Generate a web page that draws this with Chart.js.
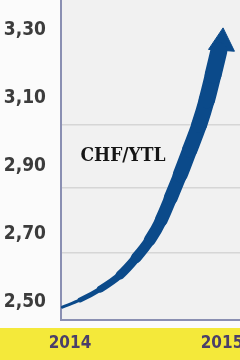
<!DOCTYPE html>
<html>
<head>
<meta charset="utf-8">
<script src="https://cdn.jsdelivr.net/npm/chart.js@4/dist/chart.umd.min.js"></script>
<style>
  html, body { margin: 0; padding: 0; background: #ffffff; }
  #wrap { width: 240px; height: 360px; }
</style>
</head>
<body>
<div id="wrap"><canvas id="c" width="240" height="360"></canvas></div>
<script>
// ---- data ----
// months after Jan 2014 (0 = 2014, 12 = 2015)
const months = [-0.6, 0.8, 2.4, 3.95, 5.2, 6.3, 7.2, 7.95, 8.7, 9.45, 10.2, 10.8, 11.3, 11.75];
const rates  = [2.485, 2.506, 2.538, 2.579, 2.629, 2.682, 2.741, 2.806, 2.874, 2.947, 3.021, 3.094, 3.168, 3.238];
const arrowTip = { x: 12.0, y: 3.262 };
const xTickValues = [0, 12];
const xTickLabels = ['2014', '2015'];
const yTickValues = [2.5, 2.7, 2.9, 3.1, 3.3];
const yTickLabels = ['2,50', '2,70', '2,90', '3,10', '3,30'];
const pairLabel = 'CHF/YTL';
const gridValues = [2.644, 2.835, 3.021];

// ---- styles ----
const strokeWidths = [1.5, 3, 5, 7, 9, 10.5, 12, 13, 14, 15, 15.5, 16, 16.5, 17];
const BLUE = '#0b4a8a';

const points = months.map((m, i) => ({ x: m, y: rates[i] }));

function noPad(s) { s.paddingTop = 0; s.paddingBottom = 0; s.paddingLeft = 0; s.paddingRight = 0; }

const bgPlugin = {
  id: 'bg',
  beforeDraw(chart) {
    const { ctx, chartArea: a, width, height } = chart;
    ctx.save();
    ctx.fillStyle = '#fbfbfb';
    ctx.fillRect(0, 0, width, height);
    ctx.fillStyle = '#f1f1f1';
    ctx.fillRect(a.left, a.top, a.right - a.left, a.bottom - a.top);
    ctx.fillStyle = '#f4e93a';
    ctx.fillRect(0, a.bottom + 8, width, height - a.bottom - 8);
    ctx.restore();
  }
};

const textPlugin = {
  id: 'pairText',
  afterDatasetsDraw(chart) {
    const { ctx, chartArea: a } = chart;
    ctx.save();
    ctx.font = 'bold 19px "DejaVu Serif Condensed", "DejaVu Serif", serif';
    ctx.fillStyle = '#151515';
    ctx.textAlign = 'center';
    ctx.textBaseline = 'middle';
    ctx.fillText(pairLabel, a.left + 62, a.top + 156);
    ctx.restore();
  }
};

new Chart(document.getElementById('c'), {
  type: 'scatter',
  data: {
    datasets: [
      {
        data: points,
        showLine: true,
        borderColor: BLUE,
        backgroundColor: BLUE,
        pointRadius: 0,
        borderCapStyle: 'round',
        borderJoinStyle: 'round',
        cubicInterpolationMode: 'monotone',
        segment: {
          borderWidth: ctx => strokeWidths[ctx.p0DataIndex + 1]
        },
        borderWidth: 2,
        clip: false
      },
      {
        data: [arrowTip],
        pointStyle: 'triangle',
        pointRadius: 15,
        pointBackgroundColor: BLUE,
        pointBorderColor: BLUE,
        pointBorderWidth: 1,
        pointRotation: 4,
        clip: false
      }
    ]
  },
  options: {
    responsive: false,
    animation: false,
    events: [],
    layout: { padding: 0, autoPadding: false },
    plugins: { legend: { display: false }, tooltip: { enabled: false }, title: { display: false } },
    scales: {
      x: {
        type: 'linear',
        min: -0.71,
        max: 13.42,
        afterFit(s) { s.height = 40; noPad(s); },
        afterBuildTicks(s) { s.ticks = xTickValues.map(v => ({ value: v })); },
        grid: { display: false, drawTicks: false },
        border: { display: true, color: '#8a8fb2', width: 2 },
        ticks: {
          autoSkip: false,
          maxRotation: 0,
          padding: 13,
          color: '#4a3f6a',
          font: { family: '"DejaVu Sans Condensed", "DejaVu Sans", sans-serif', size: 17, weight: 'bold' },
          callback: (v) => xTickLabels[xTickValues.indexOf(v)]
        }
      },
      y: {
        type: 'linear',
        min: 2.447,
        max: 3.388,
        afterFit(s) { s.width = 61; noPad(s); },
        afterBuildTicks(s) { s.ticks = yTickValues.map(v => ({ value: v })); },
        grid: { display: false, drawTicks: false },
        border: { display: true, color: '#8a8fb2', width: 2 },
        ticks: {
          autoSkip: false,
          padding: 15,
          color: '#3c3c3c',
          font: { family: '"DejaVu Sans Condensed", "DejaVu Sans", sans-serif', size: 19, weight: 'bold' },
          callback: (v) => yTickLabels[yTickValues.indexOf(v)]
        }
      },
      yg: {
        type: 'linear',
        position: 'right',
        min: 2.447,
        max: 3.388,
        afterFit(s) { s.width = 0; noPad(s); },
        afterBuildTicks(s) { s.ticks = gridValues.map(v => ({ value: v })); },
        grid: { display: true, drawTicks: false, color: '#d6d6d6', lineWidth: 1.5 },
        border: { display: false },
        ticks: { display: false }
      }
    }
  },
  plugins: [bgPlugin, textPlugin]
});
</script>
</body>
</html>
